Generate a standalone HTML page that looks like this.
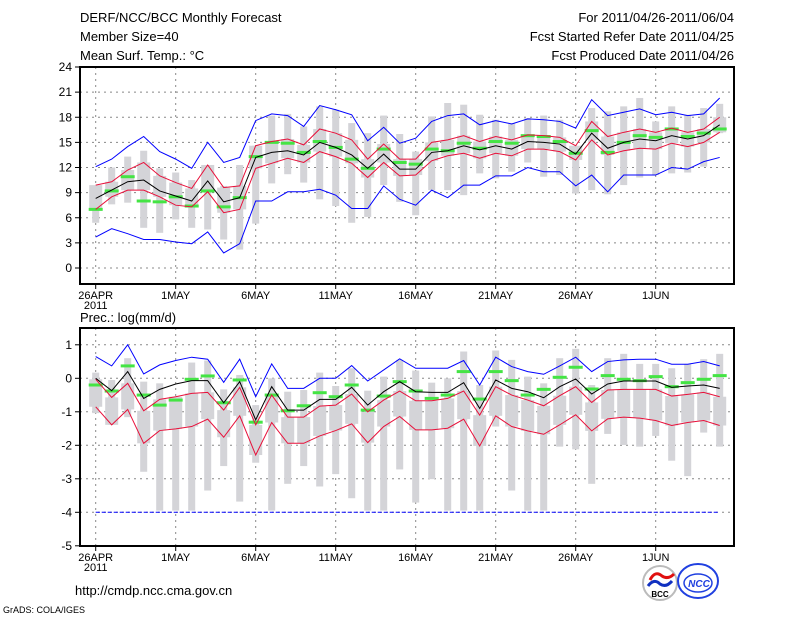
<!DOCTYPE html>
<html><head><meta charset="utf-8"><style>
body{margin:0;background:#fff;}
svg{display:block;font-family:"Liberation Sans",sans-serif;}
</style></head><body>
<svg id="chart" width="800" height="618" xmlns="http://www.w3.org/2000/svg">
<rect width="800" height="618" fill="#fff"/>
<g font-size="13" fill="#000">
<text x="80" y="22">DERF/NCC/BCC Monthly Forecast</text>
<text x="80" y="41">Member Size=40</text>
<text x="80" y="60">Mean Surf. Temp.: °C</text>
<text x="734" y="22" text-anchor="end">For 2011/04/26-2011/06/04</text>
<text x="734" y="41" text-anchor="end">Fcst Started Refer Date 2011/04/25</text>
<text x="734" y="60" text-anchor="end">Fcst Produced Date 2011/04/26</text>
</g>
<text x="80" y="322" font-size="13">Prec.: log(mm/d)</text>
<text x="75" y="595" font-size="13">http://cmdp.ncc.cma.gov.cn</text>
<text x="3" y="613" font-size="9">GrADS: COLA/IGES</text>
<g>
<circle cx="660" cy="583" r="17" fill="#fff" stroke="#bbb" stroke-width="2"/>
<path d="M650 580 q5 -10 12 -4 q6 4 12 -2" fill="none" stroke="#e01010" stroke-width="3"/>
<path d="M648 586 q6 -8 12 -2 q6 4 12 -3" fill="none" stroke="#1030c0" stroke-width="3"/>
<text x="660" y="597" font-size="8" text-anchor="middle" font-weight="bold">BCC</text>
</g>
<g>
<ellipse cx="698" cy="581" rx="20" ry="17" fill="none" stroke="#2040e0" stroke-width="2"/>
<ellipse cx="698" cy="583" rx="14" ry="9" fill="none" stroke="#2040e0" stroke-width="1.5"/>
<text x="699" y="587" font-size="10" text-anchor="middle" fill="#2040e0" font-weight="bold" font-style="italic">NCC</text>
</g>
<g id="plots"></g>
</svg>
<script>
// ---- time axis ----
const dayLabels = ["26APR","1MAY","6MAY","11MAY","16MAY","21MAY","26MAY","1JUN"];
const tTicks = [24,21,18,15,12,9,6,3,0];
const pTicks = [1,0,-1,-2,-3,-4,-5];
// ---- temperature panel ----
const tMean = [8.3,9.3,10.3,10.5,9.2,8.6,8.0,10.4,7.9,8.4,13.2,13.8,14.0,13.5,15.0,14.4,13.5,11.9,13.6,11.8,11.8,13.8,14.0,14.6,14.1,14.6,14.2,15.1,15.0,14.8,13.6,16.1,14.3,15.0,15.4,15.2,15.8,15.4,15.8,17.1];
const tRedHi = [9.9,10.3,11.7,12.6,11.0,10.2,9.5,12.3,9.6,9.8,14.6,15.1,15.4,14.7,16.6,16.1,15.3,13.0,14.8,13.0,13.0,15.0,15.3,15.8,15.1,15.7,15.3,15.9,15.8,15.6,14.6,17.5,15.7,16.2,16.6,16.2,16.7,16.2,16.6,18.0];
const tRedLo = [7.0,8.5,9.3,9.3,8.5,7.5,7.3,9.1,6.6,7.0,11.9,12.5,13.1,12.6,13.9,13.3,12.5,10.8,12.6,11.0,11.1,12.8,13.4,13.7,13.1,13.7,13.4,14.2,14.2,13.9,12.9,15.3,13.5,14.0,14.3,14.2,14.9,14.5,15.0,16.2];
const tBlueHi = [12.1,13.0,14.5,15.7,13.9,13.0,11.9,15.0,12.6,13.2,17.6,18.4,18.2,16.9,19.4,18.9,18.3,15.2,16.8,14.9,15.5,17.5,18.2,18.4,17.1,17.6,17.2,17.8,17.7,17.5,16.7,20.1,18.2,18.6,19.0,18.3,18.6,18.2,18.4,20.3];
const tBlueLo = [3.7,4.7,4.1,3.4,3.4,3.1,2.9,4.3,1.8,2.9,8.0,8.0,9.1,9.1,9.4,8.7,7.1,7.1,9.8,8.2,7.5,9.3,8.4,9.9,9.9,11.0,11.0,12.0,11.5,11.5,9.8,11.1,9.1,11.1,11.1,11.1,12.0,11.8,12.7,13.2];
const tObs = [7.0,9.2,10.9,8.0,7.9,8.5,7.4,9.2,7.3,8.4,13.3,15.0,14.9,13.8,15.1,14.4,13.0,11.9,14.2,12.6,12.4,14.2,14.0,14.9,14.3,15.1,14.9,15.8,15.7,15.1,13.7,16.4,13.8,15.0,15.8,15.6,16.6,15.7,16.1,16.6];
const tWhiskHi = [9.8,12.0,13.3,14.0,11.9,11.4,10.5,11.6,9.8,12.3,14.6,18.2,18.4,16.9,19.3,18.9,17.3,16.1,18.2,16.0,13.9,18.1,19.7,19.5,18.3,17.7,17.3,17.9,18.2,17.7,13.9,19.1,18.7,19.3,20.3,17.5,19.3,18.3,19.1,19.6];
const tWhiskLo = [5.4,7.6,7.8,4.8,4.2,5.8,4.8,4.6,3.4,2.2,5.3,10.1,11.2,10.2,8.2,7.4,5.4,6.1,9.9,7.9,6.3,9.3,9.3,8.7,11.3,10.7,11.5,12.6,10.9,11.1,8.9,9.3,8.8,9.9,10.8,11.1,11.3,11.4,12.1,16.1];
// ---- precipitation panel ----
const pMean = [0,-0.37,0.2,-0.6,-0.33,-0.17,-0.07,-0.07,-0.73,-0.1,-1.24,-0.25,-0.95,-0.95,-0.63,-0.63,-0.27,-0.8,-0.4,-0.1,-0.4,-0.42,-0.42,-0.13,-0.9,-0.05,-0.3,-0.4,-0.58,-0.25,-0.02,-0.47,-0.17,-0.08,-0.08,-0.08,-0.27,-0.23,-0.2,-0.3];
const pBlueHi = [0.65,0.37,1.0,0.13,0.4,0.53,0.63,0.57,-0.12,0.57,-0.55,0.43,-0.3,-0.3,0,0,0.38,-0.08,0.25,0.58,0.3,0.3,0.3,0.53,-0.2,0.63,0.35,0.2,0.12,0.37,0.63,0.2,0.5,0.55,0.57,0.57,0.42,0.42,0.5,0.37];
const pRedHi = [-0.03,-0.57,-0.15,-0.97,-0.63,-0.55,-0.45,-0.42,-0.95,-0.27,-1.39,-0.5,-1.16,-1.16,-0.83,-0.8,-0.47,-1.0,-0.65,-0.38,-0.67,-0.67,-0.6,-0.38,-1.1,-0.25,-0.5,-0.65,-0.82,-0.52,-0.25,-0.72,-0.35,-0.33,-0.33,-0.33,-0.53,-0.48,-0.42,-0.55];
const pRedLo = [-0.85,-1.39,-0.93,-1.94,-1.56,-1.51,-1.44,-1.22,-1.76,-1.12,-2.29,-1.32,-1.94,-1.94,-1.72,-1.56,-1.36,-1.92,-1.44,-1.14,-1.54,-1.54,-1.49,-1.22,-2.02,-1.12,-1.44,-1.57,-1.67,-1.39,-1.09,-1.57,-1.21,-1.16,-1.19,-1.26,-1.41,-1.32,-1.26,-1.41];
const pBlueLo = [-4,-4,-4,-4,-4,-4,-4,-4,-4,-4,-4,-4,-4,-4,-4,-4,-4,-4,-4,-4,-4,-4,-4,-4,-4,-4,-4,-4,-4,-4,-4,-4,-4,-4,-4,-4,-4,-4,-4,-4];
const pObs = [-0.2,-0.38,0.37,-0.5,-0.8,-0.65,-0.03,0.07,-0.73,-0.05,-1.31,-0.5,-0.97,-0.82,-0.43,-0.55,-0.2,-0.95,-0.53,-0.1,-0.38,-0.6,-0.5,0.2,-0.62,0.2,-0.07,-0.5,-0.33,0.03,0.33,-0.32,0.08,-0.03,-0.07,0.05,-0.25,-0.13,-0.03,0.08];
const pWhiskHi = [0.17,-0.05,0.6,-0.1,-0.15,-0.6,0.47,0.53,-0.33,0.1,-0.8,0,-0.4,-0.35,0.17,-0.23,0.3,-0.37,0.05,0.55,0.23,-0.13,0,0.8,-0.2,0.83,0.55,0.05,-0.15,0.6,0.88,-0.2,0.6,0.73,0.43,0.43,0.3,0.43,0.57,0.73];
const pWhiskLo = [-1.04,-1.39,-1.16,-2.79,-3.95,-3.95,-3.95,-3.35,-2.62,-3.68,-2.52,-3.95,-3.15,-2.62,-3.23,-2.86,-3.58,-3.95,-3.95,-2.72,-3.71,-3.01,-3.95,-3.95,-3.95,-1.44,-3.35,-3.95,-3.95,-2.04,-2.12,-3.15,-1.66,-1.99,-2.04,-1.72,-2.46,-2.92,-1.62,-2.04];

const NS="http://www.w3.org/2000/svg";
const root=document.getElementById('plots');
function mk(tag,attrs,parent){const e=document.createElementNS(NS,tag);for(const k in attrs)e.setAttribute(k,attrs[k]);(parent||root).appendChild(e);return e;}
const L=80,R=734;
function xOf(d){return 95.7+16*d;}

function panel(cfg){
  const g=mk('g',{});
  
  
  const y=cfg.y;
  // grid
  for(let i=0;i<dayLabels.length;i++){
    const gx=xOf(i*5);
    const ln=mk('line',{x1:gx,x2:gx,y1:cfg.top,y2:cfg.bot,stroke:'#888','stroke-dasharray':'2,4','stroke-width':1},g);
    
    
  }
  cfg.ticks.forEach(t=>{
    const ty=y(t);
    if(ty>cfg.top+1&&ty<cfg.bot-1){
      const ln=mk('line',{x1:L,x2:R,y1:ty,y2:ty,stroke:'#888','stroke-dasharray':'2,4','stroke-width':1},g);
      
      
    }
    const tk=mk('line',{x1:L-5,x2:L,y1:ty,y2:ty,stroke:'#000','stroke-width':1},g);
    
    
    const tx=mk('text',{x:L-8,y:ty+4,'font-size':12,'text-anchor':'end'},g);
    
    
    tx.textContent=t;
  });
  // gray whiskers and boxes
  for(let d=0;d<40;d++){
    const cx=xOf(d);
    const w=mk('rect',{x:cx-3.5,y:y(cfg.wHi[d]),width:7,height:Math.max(0,y(cfg.wLo[d])-y(cfg.wHi[d])),fill:'#d4d4d8'},g);
    
    
    const b=mk('rect',{x:cx-6.5,y:y(cfg.rHi[d]),width:13,height:Math.max(0,y(cfg.rLo[d])-y(cfg.rHi[d])),fill:'#d4d4d8'},g);
    
    
  }
  // green obs
  for(let d=0;d<40;d++){
    const cx=xOf(d);
    const o=mk('rect',{x:cx-7,y:y(cfg.obs[d])-1.5,width:14,height:3,fill:'#44e444'},g);
    
    
  }
  function line(arr,col,name,dash){
    const p=mk('polyline',{points:arr.map((v,d)=>xOf(d)+','+y(v)).join(' '),fill:'none',stroke:col,'stroke-width':1},g);
    if(dash)p.setAttribute('stroke-dasharray',dash);
    
    
  }
  line(cfg.bHi,'#0000ff','ensemble-max-line');
  line(cfg.bLo,'#0000ff','ensemble-min-line',cfg.bLoDash);
  line(cfg.rHi,'#e8103a','upper-spread-line');
  line(cfg.rLo,'#e8103a','lower-spread-line');
  line(cfg.mean,'#000','ensemble-mean-line');
  // frame
  const fr=mk('rect',{x:L,y:cfg.top,width:R-L,height:cfg.bot-cfg.top,fill:'none',stroke:'#000','stroke-width':2},g);
  
  
  // x labels
  dayLabels.forEach((lab,i)=>{
    const gx=xOf(i*5);
    const tk=mk('line',{x1:gx,x2:gx,y1:cfg.bot,y2:cfg.bot+5,stroke:'#000'},g);
    
    
    const t=mk('text',{x:gx,y:cfg.bot+15,'font-size':11,'text-anchor':'middle'},g);
    
    
    t.textContent=lab;
  });
  const yr=mk('text',{x:xOf(0),y:cfg.bot+25,'font-size':11,'text-anchor':'middle'},g);
  
  
  yr.textContent='2011';
}
panel({name:'temperature-panel',top:67,bot:284,ticks:tTicks,y:v=>268-v*8.375,
  mean:tMean,rHi:tRedHi,rLo:tRedLo,bHi:tBlueHi,bLo:tBlueLo,obs:tObs,wHi:tWhiskHi,wLo:tWhiskLo});
panel({name:'precipitation-panel',top:328,bot:546,ticks:pTicks,y:v=>378.3-v*33.5,
  mean:pMean,rHi:pRedHi,rLo:pRedLo,bHi:pBlueHi,bLo:pBlueLo,obs:pObs,wHi:pWhiskHi,wLo:pWhiskLo,bLoDash:'4,2'});
</script>
</body></html>
